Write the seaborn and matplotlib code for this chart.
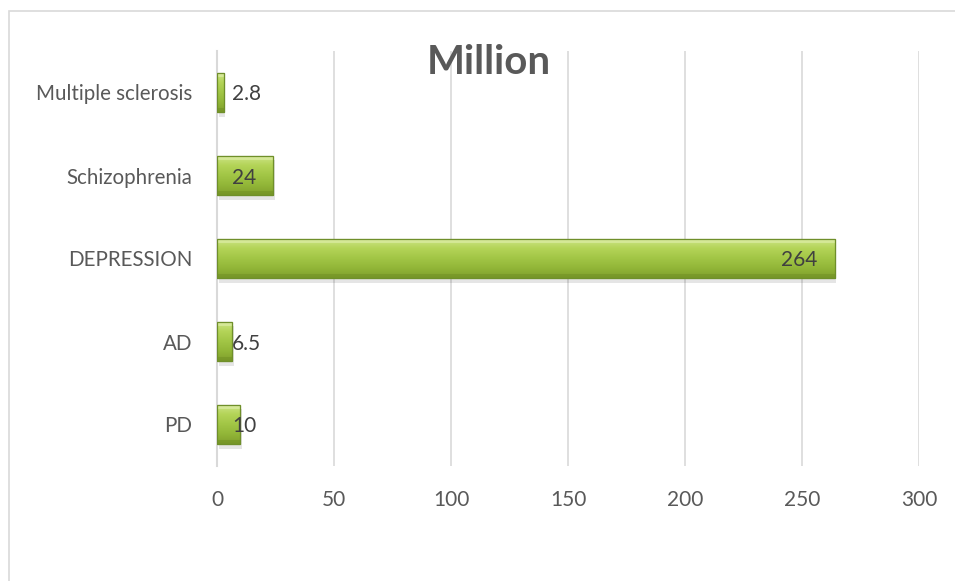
import matplotlib
matplotlib.use("Agg")
import matplotlib.pyplot as plt
import seaborn as sns
import numpy as np
import pandas as pd
from matplotlib.colors import LinearSegmentedColormap
from matplotlib.patches import Rectangle

categories = ["Multiple sclerosis", "Schizophrenia", "DEPRESSION", "AD", "PD"]
values = [2.8, 24, 264, 6.5, 10]
labels = ["2.8", "24", "264", "6.5", "10"]
xticks = [0, 50, 100, 150, 200, 250, 300]

sns.set_theme(style="white")
plt.rcParams['font.family'] = ['Lato', 'DejaVu Sans']

df = pd.DataFrame({"cat": categories, "val": values})

fig = plt.figure(figsize=(9.55, 5.81), dpi=100)
ax = fig.add_axes([217/955, 1-466/581, 702/955, 415/581])

sns.barplot(data=df, x="val", y="cat", order=categories, color="#9bbb59",
            width=0.48, ax=ax, zorder=3, edgecolor="#6f8f2a", linewidth=0.8)

ax.set_xlim(0, 300)
ax.set_xticks(xticks)
ax.set_xticklabels([str(t) for t in xticks], fontsize=15, color="#595959")
ax.tick_params(axis="x", length=0, pad=17)
ax.tick_params(axis="y", length=0, pad=18, labelsize=14.8, labelcolor="#595959")
for t in ax.get_yticklabels():
    t.set_va("center_baseline")
ax.set_xlabel("")
ax.set_ylabel("")
ax.xaxis.grid(True, color="#d9d9d9", linewidth=1.2, zorder=0)
ax.set_axisbelow(True)
for s in ["top", "right", "bottom"]:
    ax.spines[s].set_visible(False)
ax.spines["left"].set_color("#d9d9d9")
ax.spines["left"].set_linewidth(1.5)

cmap = LinearSegmentedColormap.from_list(
    "g", ["#cfe68a", "#b4d458", "#a2c646", "#92b638", "#809f2c"])
grad = np.linspace(0, 1, 100).reshape(-1, 1)
for p in list(ax.patches):
    x0, y0 = p.get_x(), p.get_y()
    w, h = p.get_width(), p.get_height()
    sh = Rectangle((x0 + 0.7, y0 + 0.05), w, h, facecolor="#000000", alpha=0.10,
                   edgecolor="none", zorder=2)
    ax.add_patch(sh)
    im = ax.imshow(grad, cmap=cmap, aspect="auto", extent=(x0, x0 + w, y0 + h, y0),
                   zorder=3.5, interpolation="bicubic")
    im.set_clip_path(p)
    ax.add_patch(Rectangle((x0, y0), w, h * 0.12, facecolor="#e2f0b0", alpha=0.55,
                           edgecolor="none", zorder=3.6))
    ax.add_patch(Rectangle((x0, y0 + h * 0.88), w, h * 0.12, facecolor="#6a8a22",
                           alpha=0.4, edgecolor="none", zorder=3.6))
    ax.add_patch(Rectangle((x0, y0), w, h, facecolor="none", edgecolor="#6f8f2a",
                           linewidth=0.9, zorder=3.7))

ax.set_ylim(4.5, -0.5)

for i, (v, lab) in enumerate(zip(values, labels)):
    if v > 50:
        ax.text(v - 7.5, i, lab, ha="right", va="center_baseline", fontsize=15,
                color="#404040", zorder=5)
    else:
        ax.text(6.4, i, lab, ha="left", va="center_baseline", fontsize=15,
                color="#404040", zorder=5)

fig.text(489/955, 1-62/581, "Million", ha="center", va="center", fontsize=29,
         fontweight="bold", color="#595959")

fig.patches.append(Rectangle((8.5/955, -0.1), 1.2, 1 - 10.5/581 + 0.1,
                             transform=fig.transFigure, fill=False,
                             edgecolor="#d9d9d9", linewidth=1.2))

fig.savefig("out.png", dpi=100)
